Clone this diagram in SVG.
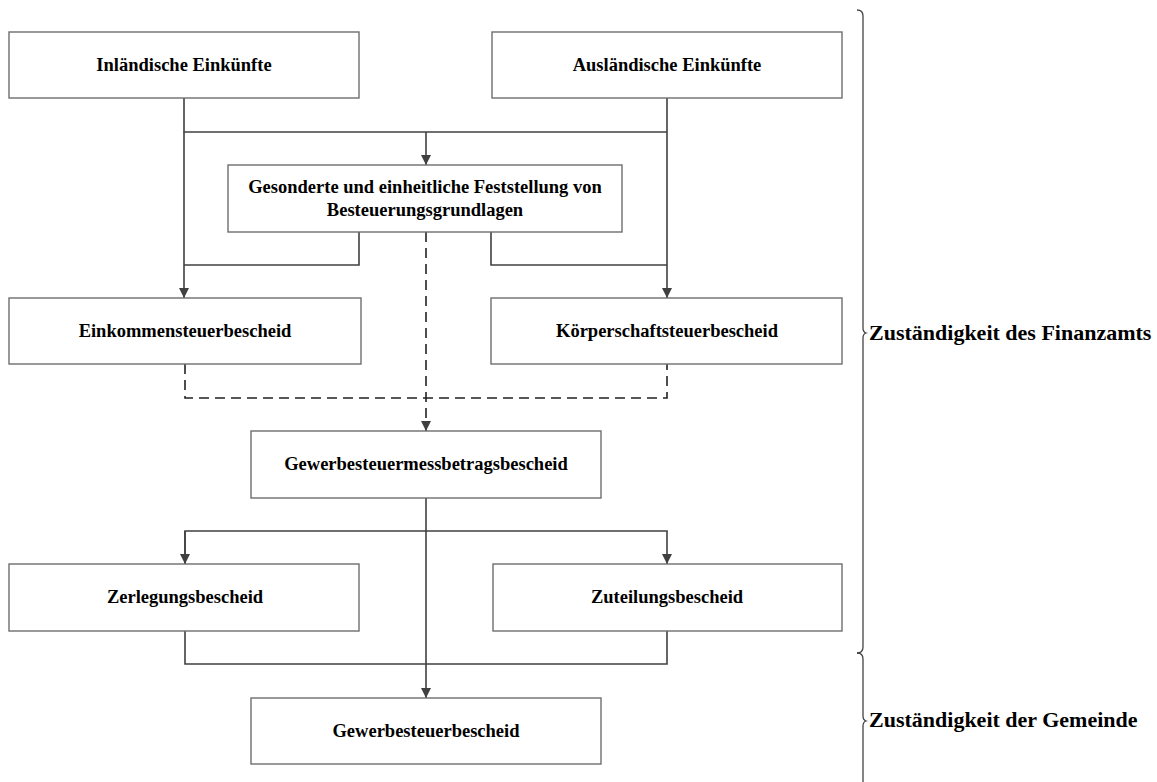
<svg xmlns="http://www.w3.org/2000/svg" width="1157" height="782" viewBox="0 0 1157 782">
<defs>
<marker id="ah" viewBox="0 0 10 10" refX="10" refY="5" markerWidth="10" markerHeight="10" markerUnits="userSpaceOnUse" orient="auto">
<path d="M0,0 L10,5 L0,10 Z" fill="#404040"/>
</marker>
<style>
.box{fill:#fff;stroke:#6e6e6e;stroke-width:1.4}
.t{font-family:"Liberation Serif","Times New Roman",serif;font-weight:bold;font-size:18.5px;fill:#000;text-anchor:middle}
.lab{font-family:"Liberation Serif","Times New Roman",serif;font-weight:bold;font-size:22px;fill:#000}
.ln{fill:none;stroke:#404040;stroke-width:1.6}
.dash{fill:none;stroke:#222;stroke-width:1.6;stroke-dasharray:10,6}
.brace{fill:none;stroke:#444;stroke-width:1.3}
</style>
</defs>
<rect width="1157" height="782" fill="#fff"/>
<g id="connectors">
<path class="ln" d="M184,98 V132 H667 M667,98 V132"/>
<path class="ln" d="M426,132 V165" marker-end="url(#ah)"/>
<path class="ln" d="M184,132 V298" marker-end="url(#ah)"/>
<path class="ln" d="M667,132 V298" marker-end="url(#ah)"/>
<path class="ln" d="M359,232 V265 H184"/>
<path class="ln" d="M491,232 V265 H667"/>
<path class="dash" d="M185,364 V398 H667 V364"/>
<path class="dash" d="M426,232 V431" marker-end="url(#ah)"/>
<path class="ln" d="M426,498 V698" marker-end="url(#ah)"/>
<path class="ln" d="M185,564 V531 H667 V564" marker-end="url(#ah)"/>
<path class="ln" d="M185,531 V564" marker-end="url(#ah)"/>
<path class="ln" d="M185,631 V664 H667 V631"/>
</g>
<g id="n1"><rect class="box" x="9" y="32" width="350" height="66"/><text class="t" x="184" y="71">Inländische Einkünfte</text></g>
<g id="n2"><rect class="box" x="492" y="32" width="350" height="66"/><text class="t" x="667" y="71">Ausländische Einkünfte</text></g>
<g id="n3"><rect class="box" x="228" y="165" width="394" height="67"/><text class="t" x="425" y="193">Gesonderte und einheitliche Feststellung von</text><text class="t" x="425" y="216">Besteuerungsgrundlagen</text></g>
<g id="n4"><rect class="box" x="9" y="298" width="352" height="66"/><text class="t" x="185" y="337">Einkommensteuerbescheid</text></g>
<g id="n5"><rect class="box" x="491" y="298" width="351" height="66"/><text class="t" x="667" y="337">Körperschaftsteuerbescheid</text></g>
<g id="n6"><rect class="box" x="251" y="431" width="350" height="67"/><text class="t" x="426" y="470">Gewerbesteuermessbetragsbescheid</text></g>
<g id="n7"><rect class="box" x="9" y="564" width="350" height="67"/><text class="t" x="185" y="603">Zerlegungsbescheid</text></g>
<g id="n8"><rect class="box" x="493" y="564" width="349" height="67"/><text class="t" x="667" y="603">Zuteilungsbescheid</text></g>
<g id="n9"><rect class="box" x="251" y="698" width="350" height="66"/><text class="t" x="426" y="737">Gewerbesteuerbescheid</text></g>
<g id="brace1">
<path class="brace" d="M857,10 Q863,10 863,16 V328 Q863,332 866,333 Q863,334 863,338 V647 Q863,653 857,653"/>
<text class="lab" x="869" y="340">Zuständigkeit des Finanzamts</text>
</g>
<g id="brace2">
<path class="brace" d="M857,653 Q863,653 863,659 V716 Q863,720 866,721 Q863,722 863,726 V782"/>
<text class="lab" x="869" y="727">Zuständigkeit der Gemeinde</text>
</g>
</svg>
